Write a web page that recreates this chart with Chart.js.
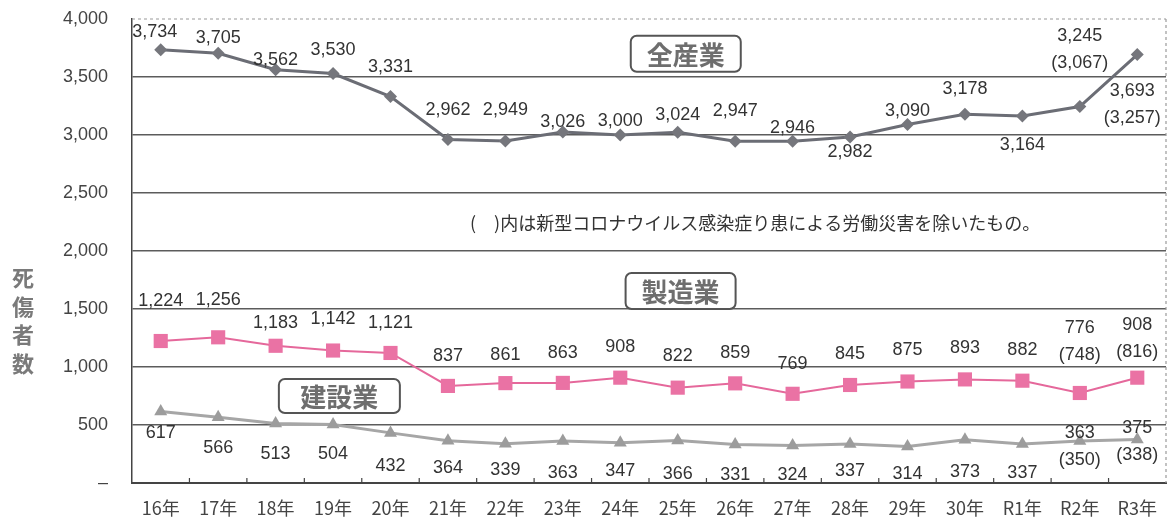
<!DOCTYPE html>
<html>
<head>
<meta charset="utf-8">
<script src="https://cdn.jsdelivr.net/npm/chart.js@4.4.0/dist/chart.umd.min.js"></script>
<style>
  html, body { margin: 0; padding: 0; background: #fff; }
  #wrap { width: 1176px; height: 524px; position: relative; }
</style>
</head>
<body>
<div id="wrap"><canvas id="chart" width="1176" height="524"></canvas></div>
<script>
// categories
const years = ['16年','17年','18年','19年','20年','21年','22年','23年','24年','25年','26年','27年','28年','29年','30年','R1年','R2年','R3年'];

// series values
const allIndustry   = [3734,3705,3562,3530,3331,2962,2949,3026,3000,3024,2947,2946,2982,3090,3178,3164,3245,3693];
const manufacturing = [1224,1256,1183,1142,1121,837,861,863,908,822,859,769,845,875,893,882,776,908];
const construction  = [617,566,513,504,432,364,339,363,347,366,331,324,337,314,373,337,363,375];

// values excluding COVID-19 cases (shown in parentheses)
const allExCovid = [null,null,null,null,null,null,null,null,null,null,null,null,null,null,null,null,3067,3257];
const mfgExCovid = [null,null,null,null,null,null,null,null,null,null,null,null,null,null,null,null,748,816];
const conExCovid = [null,null,null,null,null,null,null,null,null,null,null,null,null,null,null,null,350,338];

// y ticks
const yTicks = [0,500,1000,1500,2000,2500,3000,3500,4000];

// label offsets from the point (px), kept apart from the data
const allLabelDy = [-18,-15,-10,-23,-30,-29,-31,-10,-14,-17,-30,-13,15,-14,-25,29,-71,36];
const mfgLabelDy = [-40,-37,-23,-31,-30,-30,-28,-30,-31,-32,-30,-30,-31,-31,-31,-31,-65,-53];
const conLabelDy = [22,31,31,29,33,27,26,32,28,33,30,30,27,27,32,29,-8,-11];

const fmt = v => v.toLocaleString('en-US');
const NUM_FONT = '18px "Liberation Sans", Arial, sans-serif';
const JP_FONT = '"Noto Sans CJK JP", sans-serif';

// value labels, box titles, note, vertical axis title, axis decorations
const decorations = {
  id: 'decorations',
  beforeDatasetsDraw(chart) {
    const {ctx, chartArea: a} = chart;
    const x = chart.scales.x;
    ctx.save();
    // dotted top line and right edge
    ctx.strokeStyle = '#9a9a9a';
    ctx.lineWidth = 1.2;
    ctx.setLineDash([3, 3]);
    ctx.beginPath();
    ctx.moveTo(a.left, a.top); ctx.lineTo(a.right, a.top);
    ctx.moveTo(a.right, a.top); ctx.lineTo(a.right, a.bottom);
    ctx.stroke();
    ctx.setLineDash([]);
    // small upward ticks between categories
    ctx.strokeStyle = '#444';
    ctx.lineWidth = 1.2;
    ctx.beginPath();
    for (let i = 1; i < years.length; i++) {
      const px = (x.getPixelForValue(i - 1) + x.getPixelForValue(i)) / 2;
      ctx.moveTo(px, a.bottom); ctx.lineTo(px, a.bottom - 5);
    }
    ctx.stroke();
    ctx.restore();
  },
  afterDatasetsDraw(chart) {
    const {ctx} = chart;
    const xs = chart.scales.x, ys = chart.scales.y;
    ctx.save();
    ctx.fillStyle = '#333';
    ctx.font = NUM_FONT;
    ctx.textAlign = 'center';
    ctx.textBaseline = 'middle';

    const series = [
      {vals: allIndustry, ex: allExCovid, dy: allLabelDy, dx: i => (i === 0 ? -6 : i === years.length - 1 ? -5 : 0)},
      {vals: manufacturing, ex: mfgExCovid, dy: mfgLabelDy, dx: () => 0},
      {vals: construction, ex: conExCovid, dy: conLabelDy, dx: () => 0}
    ];
    series.forEach(s => {
      s.vals.forEach((v, i) => {
        const px = xs.getPixelForValue(i) + s.dx(i);
        const py = ys.getPixelForValue(v) + s.dy[i];
        ctx.fillText(fmt(v), px, py);
        if (s.ex[i] != null) ctx.fillText('(' + fmt(s.ex[i]) + ')', px, py + 27);
      });
    });

    // boxed series names
    const boxes = [
      {text: '全産業', cx: 9.14, cy: 3700, w: 110, h: 36},
      {text: '製造業', cx: 9.05, cy: 1655, w: 110, h: 36},
      {text: '建設業', cx: 3.11, cy: 750, w: 121, h: 34}
    ];
    boxes.forEach(b => {
      const cx = xs.getPixelForValue(b.cx), cy = ys.getPixelForValue(b.cy);
      ctx.beginPath();
      ctx.roundRect(cx - b.w / 2, cy - b.h / 2, b.w, b.h, 6);
      ctx.fillStyle = '#fff';
      ctx.fill();
      ctx.strokeStyle = '#555';
      ctx.lineWidth = 2;
      ctx.stroke();
      ctx.fillStyle = '#6e6e6e';
      ctx.font = 'bold 26px ' + JP_FONT;
      ctx.fillText(b.text, cx, cy + 1);
    });

    // note
    ctx.fillStyle = '#333';
    ctx.font = '18px ' + JP_FONT;
    ctx.textAlign = 'left';
    ctx.fillText('(　)内は新型コロナウイルス感染症り患による労働災害を除いたもの。', 470, ys.getPixelForValue(2240));

    // vertical axis title
    ctx.fillStyle = '#7a7a7a';
    ctx.font = 'bold 22px ' + JP_FONT;
    ctx.textAlign = 'center';
    '死傷者数'.split('').forEach((c, i) => ctx.fillText(c, 23, 278 + i * 28.5));
    ctx.restore();
  }
};

new Chart(document.getElementById('chart'), {
  type: 'line',
  data: {
    labels: years,
    datasets: [
      {
        label: '全産業',
        data: allIndustry,
        borderColor: '#6b6d75',
        backgroundColor: '#75767c',
        borderWidth: 3,
        pointStyle: 'rectRot',
        pointRadius: 6.5,
        pointBorderWidth: 0,
        tension: 0
      },
      {
        label: '製造業',
        data: manufacturing,
        borderColor: '#e5689b',
        backgroundColor: '#ea72a4',
        borderWidth: 2,
        pointStyle: 'rect',
        pointRadius: 10,
        pointBorderWidth: 0,
        tension: 0
      },
      {
        label: '建設業',
        data: construction,
        borderColor: '#a6a6a6',
        backgroundColor: '#9c9c9c',
        borderWidth: 3,
        pointStyle: 'triangle',
        pointRadius: 7.5,
        pointBorderWidth: 0,
        tension: 0
      }
    ]
  },
  options: {
    responsive: false,
    animation: false,
    layout: { padding: { top: 19, right: 7, bottom: 0, left: 0 } },
    plugins: {
      legend: { display: false },
      tooltip: { enabled: false }
    },
    scales: {
      x: {
        offset: true,
        afterFit: s => { s.height = 41; },
        grid: { display: true, drawOnChartArea: false, drawTicks: false },
        border: { color: '#444', width: 2 },
        ticks: {
          padding: 14,
          color: '#444',
          font: { family: '"Noto Sans CJK JP", sans-serif', size: 18 },
          maxRotation: 0,
          autoSkip: false
        }
      },
      y: {
        min: 0,
        max: 4000,
        afterFit: s => { s.width = 132; s.paddingTop = 0; s.paddingBottom = 0; },
        afterBuildTicks: s => { s.ticks = yTicks.map(v => ({value: v})); },
        grid: {
          drawTicks: false,
          color: c => (c.tick && c.tick.value === 4000 ? 'rgba(0,0,0,0)' : '#5c5c5c'),
          lineWidth: 1.5
        },
        border: { color: '#444', width: 1.5 },
        ticks: {
          padding: 24,
          color: '#444',
          font: { family: '"Liberation Sans", Arial, sans-serif', size: 18 },
          callback: v => (v === 0 ? '–' : fmt(v))
        }
      }
    }
  },
  plugins: [decorations]
});
</script>
</body>
</html>
